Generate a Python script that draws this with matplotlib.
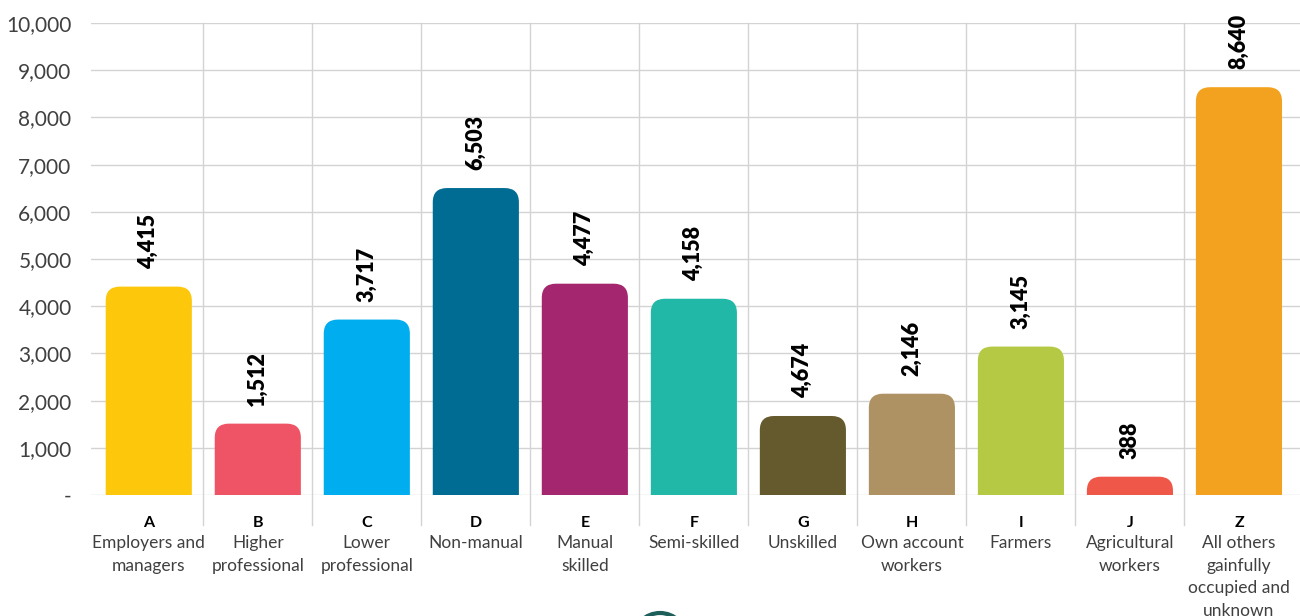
import matplotlib
matplotlib.use("Agg")
import matplotlib.pyplot as plt
from matplotlib.patches import FancyBboxPatch, Circle
from matplotlib.ticker import FuncFormatter

# data
codes = ["A", "B", "C", "D", "E", "F", "G", "H", "I", "J", "Z"]
names = ["Employers and\nmanagers", "Higher\nprofessional", "Lower\nprofessional",
         "Non-manual", "Manual\nskilled", "Semi-skilled", "Unskilled",
         "Own account\nworkers", "Farmers", "Agricultural\nworkers",
         "All others\ngainfully\noccupied and\nunknown"]
values = [4415, 1512, 3717, 6503, 4477, 4158, 1674, 2146, 3145, 388, 8640]
value_labels = ["4,415", "1,512", "3,717", "6,503", "4,477", "4,158", "4,674",
                "2,146", "3,145", "388", "8,640"]
colors = ["#FDC80C", "#EF5366", "#00AEEF", "#006B93", "#A3266F", "#21B8A7",
          "#655A2E", "#AF9263", "#B5C945", "#EF5749", "#F3A21F"]

plt.rcParams['font.family'] = ['Lato', 'DejaVu Sans']
text_col = "#404040"

fig = plt.figure(figsize=(13, 6.16), dpi=100)
ax = fig.add_axes([0.07, 1 - 495 / 616, 0.93, 472 / 616])

x = list(range(len(codes)))
bars = ax.bar(x, values, width=0.79, color=colors, zorder=3)

# swap plain bars for ones with rounded top corners
for b, c in zip(bars, colors):
    b.set_visible(False)
    x0, w, h = b.get_x(), b.get_width(), b.get_height()
    p = FancyBboxPatch((x0, -1000), w, h + 1000,
                       boxstyle="round,pad=0,rounding_size=0.13",
                       mutation_aspect=2300, facecolor=c, edgecolor="none",
                       zorder=3)
    ax.add_patch(p)

for xi, v, lab in zip(x, values, value_labels):
    ax.annotate(lab, (xi, v), xytext=(0, 13), textcoords="offset points",
                rotation=90, ha="center", va="bottom", fontsize=15.5,
                fontweight="heavy", color="black", zorder=4)

ax.set_ylim(0, 10000)
ax.set_xlim(-0.53, 10.56)
ax.set_yticks(range(0, 10001, 1000))
ax.yaxis.set_major_formatter(FuncFormatter(lambda v, p: "-" if v == 0 else f"{int(v):,}"))
ax.grid(axis="y", color="#D3D3D3", linewidth=1, zorder=0)
for k in range(len(codes) - 1):
    ax.axvline(k + 0.5, ymin=-30 / 472, ymax=1, color="#D3D3D3", linewidth=1,
               clip_on=False, zorder=0)

for s in ax.spines.values():
    s.set_visible(False)
ax.tick_params(axis="y", length=0, labelsize=15, labelcolor=text_col, pad=14)
ax.tick_params(axis="x", length=0)
ax.set_xticks([])

for xi, code, name in zip(x, codes, names):
    ax.annotate(code, (xi, 0), xytext=(0, -15), textcoords="offset points",
                ha="center", va="top", fontsize=11.5, fontweight="bold",
                color="black", annotation_clip=False)
    ax.annotate(name, (xi, 0), xytext=(0, -29), textcoords="offset points",
                ha="center", va="top", fontsize=12.5, color=text_col,
                linespacing=1.5, annotation_clip=False)

# fragment of a logo at the bottom edge
fig.patches.append(Circle((6.6, -0.24), 0.27, transform=fig.dpi_scale_trans,
                          fill=False, edgecolor="#1D5E5B", linewidth=3))

fig.savefig("out.png", dpi=100)
